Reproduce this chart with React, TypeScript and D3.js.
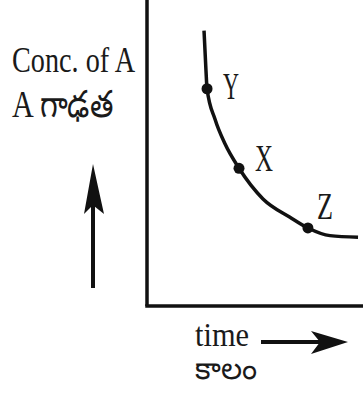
import React from "react";
import * as d3 from "d3";

const times = [2.64, 2.73, 2.78, 3.15, 3.61, 4.26, 5.37, 6.62, 7.45, 8.47, 9.77];
const conc = [90, 77, 71, 61, 53, 45, 35, 29, 25.5, 23, 22.5];
const markedNames = ["Y", "X", "Z"];
const markedTimes = [2.78, 4.26, 7.45];
const markedConc = [71, 45, 25.5];
const yLabelLines = ["Conc. of A", "A గాఢత"];
const xLabelLines = ["time", "కాలం"];

const W = 363;
const H = 401;
const font = "'Liberation Serif', 'Times New Roman', serif";

function SText(props: {
  x: number;
  y: number;
  size: number;
  sy: number;
  len?: number;
  children: React.ReactNode;
}) {
  const { x, y, size, sy, len, children } = props;
  return (
    <text
      transform={`translate(${x},${y}) scale(1,${sy})`}
      fontFamily={font}
      fontSize={size}
      fill="#1a1a1a"
      textLength={len}
      lengthAdjust={len ? "spacingAndGlyphs" : undefined}
    >
      {children}
    </text>
  );
}

export default function App() {
  const x = d3.scaleLinear().domain([0, 10]).range([147, 363]);
  const y = d3.scaleLinear().domain([0, 100]).range([306, 0]);
  const data = times.map((t, i) => ({ t, c: conc[i] }));
  const line = d3
    .line<{ t: number; c: number }>()
    .x((d) => x(d.t))
    .y((d) => y(d.c))
    .curve(d3.curveMonotoneX);
  const labelOffsets = [
    [16, 10],
    [16, 3],
    [9, -9],
  ];
  const labelLens = [16, 18, 16];
  return (
    <svg
      width={W}
      height={H}
      style={{ position: "absolute", left: 0, top: 0, background: "#fff" }}
    >
      <rect width={W} height={H} fill="#fff" />
      {/* axes */}
      <line x1={x(0)} y1={0} x2={x(0)} y2={y(0)} stroke="#111" strokeWidth={3.5} />
      <line x1={x(0) - 1.75} y1={y(0)} x2={W} y2={y(0)} stroke="#111" strokeWidth={3.5} />
      {/* curve */}
      <path d={line(data) || ""} fill="none" stroke="#111" strokeWidth={3.5} />
      {markedTimes.map((t, i) => (
        <g key={markedNames[i]}>
          <circle cx={x(t)} cy={y(markedConc[i])} r={5.5} fill="#111" />
          <SText
            x={x(t) + labelOffsets[i][0]}
            y={y(markedConc[i]) + labelOffsets[i][1]}
            size={29}
            sy={1.3}
            len={labelLens[i]}
          >
            {markedNames[i]}
          </SText>
        </g>
      ))}
      {/* y label */}
      <SText x={12} y={72} size={29} sy={1.25} len={123}>
        {yLabelLines[0]}
      </SText>
      <SText x={12} y={117} size={29} sy={1.3} len={101}>
        {yLabelLines[1]}
      </SText>
      {/* up arrow */}
      <line x1={93} y1={288} x2={93} y2={205} stroke="#111" strokeWidth={4} />
      <path d="M93,164 L104,214 L94,206 L92,206 L84,214 Z" fill="#111" />
      {/* x label */}
      <SText x={195} y={346} size={28} sy={1.2} len={54}>
        {xLabelLines[0]}
      </SText>
      <SText x={195} y={379} size={25} sy={1.25} len={62}>
        {xLabelLines[1]}
      </SText>
      {/* right arrow */}
      <line x1={261} y1={342} x2={325} y2={342} stroke="#111" strokeWidth={4} />
      <path d="M348,342 L311,331 L320,342 L311,354 Z" fill="#111" />
    </svg>
  );
}
